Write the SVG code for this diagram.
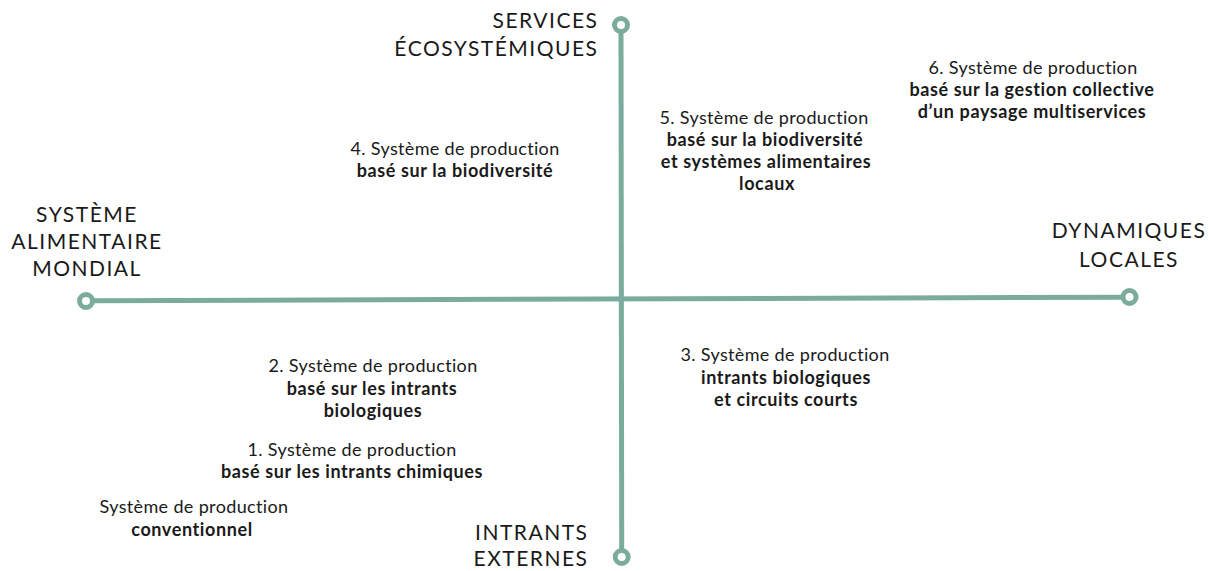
<svg xmlns="http://www.w3.org/2000/svg" width="1209" height="571" viewBox="0 0 1209 571">
  <style>
    .axis { stroke: #7aab9c; stroke-width: 5; fill: none; stroke-linecap: butt; }
    .end { stroke: #7aab9c; stroke-width: 5; fill: #ffffff; }
    .ax { font-family: Lato, "Liberation Sans", sans-serif; font-size: 21px; letter-spacing: 1.5px; fill: #1a1a1a; }
    .t { font-family: Lato, "Liberation Sans", sans-serif; font-size: 18px; letter-spacing: 0.35px; fill: #1a1a1a; text-anchor: middle; }
    .b { font-weight: 700; letter-spacing: 0.6px; }
  </style>
  <rect width="1209" height="571" fill="#ffffff"/>
  <g id="connectors">
    <line class="axis" x1="94" y1="300.8" x2="1121" y2="297.2"/>
    <line class="axis" x1="621" y1="33" x2="621.7" y2="549"/>
  </g>
  <g id="top-axis">
    <circle class="end" cx="621" cy="25" r="6.5"/>
    <text class="ax" x="598.5" y="28" text-anchor="end">SERVICES</text>
    <text class="ax" x="598.5" y="56" text-anchor="end">ÉCOSYSTÉMIQUES</text>
  </g>
  <g id="left-axis">
    <circle class="end" cx="86" cy="301" r="6.5"/>
    <text class="ax" x="87" y="222" text-anchor="middle">SYSTÈME</text>
    <text class="ax" x="87" y="249" text-anchor="middle">ALIMENTAIRE</text>
    <text class="ax" x="87" y="276" text-anchor="middle">MONDIAL</text>
  </g>
  <g id="right-axis">
    <circle class="end" cx="1129.5" cy="297" r="6.5"/>
    <text class="ax" x="1129" y="238" text-anchor="middle">DYNAMIQUES</text>
    <text class="ax" x="1129" y="267" text-anchor="middle">LOCALES</text>
  </g>
  <g id="bottom-axis">
    <circle class="end" cx="621.7" cy="557" r="6.5"/>
    <text class="ax" x="588.5" y="540" text-anchor="end">INTRANTS</text>
    <text class="ax" x="588.5" y="566" text-anchor="end">EXTERNES</text>
  </g>
  <g id="system-6">
    <text class="t" x="1033" y="74">6. Système de production</text>
    <text class="t b" x="1032" y="96">basé sur la gestion collective</text>
    <text class="t b" x="1032" y="118">d’un paysage multiservices</text>
  </g>
  <g id="system-5">
    <text class="t" x="764" y="124">5. Système de production</text>
    <text class="t b" x="765" y="146">basé sur la biodiversité</text>
    <text class="t b" x="766" y="168">et systèmes alimentaires</text>
    <text class="t b" x="767" y="190">locaux</text>
  </g>
  <g id="system-4">
    <text class="t" x="455" y="155">4. Système de production</text>
    <text class="t b" x="455" y="177">basé sur la biodiversité</text>
  </g>
  <g id="system-3">
    <text class="t" x="785" y="361">3. Système de production</text>
    <text class="t b" x="786" y="384">intrants biologiques</text>
    <text class="t b" x="786" y="406">et circuits courts</text>
  </g>
  <g id="system-2">
    <text class="t" x="373" y="372">2. Système de production</text>
    <text class="t b" x="372" y="395">basé sur les intrants</text>
    <text class="t b" x="373" y="417">biologiques</text>
  </g>
  <g id="system-1">
    <text class="t" x="352" y="456">1. Système de production</text>
    <text class="t b" x="352" y="478">basé sur les intrants chimiques</text>
  </g>
  <g id="system-conventionnel">
    <text class="t" x="194" y="513">Système de production</text>
    <text class="t b" x="192" y="536">conventionnel</text>
  </g>
</svg>
